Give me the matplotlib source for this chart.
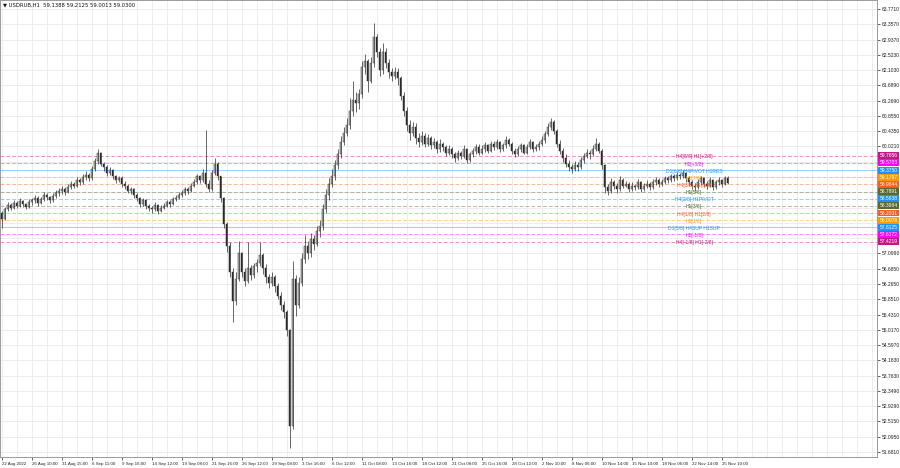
import matplotlib
matplotlib.use('Agg')
import matplotlib.pyplot as plt
import matplotlib.transforms as mtransforms
from matplotlib.patches import Rectangle
from matplotlib.ticker import MultipleLocator
import numpy as np

plt.rcParams['font.family'] = ['Liberation Sans', 'DejaVu Sans']

header_text = "\u25BC USDRUB,H1  59.1388 59.2125 59.0013 59.0300"

first_open = 58.20
closes = [
    58.05, 58.30, 58.42, 58.35, 58.48, 58.40, 58.52, 58.45, 58.38, 58.50,
    58.55, 58.62, 58.48, 58.58, 58.70, 58.64, 58.55, 58.68, 58.75, 58.80,
    58.85, 58.78, 58.92, 59.00, 58.95, 59.10, 59.05, 59.18, 59.25, 59.15,
    59.40, 59.62, 59.85, 59.55, 59.45, 59.30, 59.38, 59.20, 59.10, 59.15,
    59.00, 58.95, 58.80, 58.85, 58.70, 58.60, 58.45, 58.55, 58.40, 58.35,
    58.30, 58.42, 58.25, 58.35, 58.40, 58.50, 58.45, 58.58, 58.62, 58.70,
    58.75, 58.85, 58.80, 58.95, 59.05, 59.20, 59.10, 59.30, 59.00, 58.85,
    59.30, 59.55, 59.20, 58.60, 57.90, 57.30, 56.60, 55.80, 56.40, 57.10,
    56.60, 56.35, 56.70, 56.50, 56.75, 56.85, 57.05, 56.70, 56.45, 56.30,
    56.45, 56.20, 55.95, 55.70, 55.50, 55.00, 52.40, 56.40, 55.70, 56.30,
    56.95, 57.30, 57.10, 57.50, 57.35, 57.70, 57.85, 58.30, 58.70, 59.00,
    59.20, 59.50, 59.80, 60.15, 60.40, 60.60, 61.00, 61.30, 61.20, 61.45,
    62.20, 62.35, 61.80, 62.30, 63.00, 62.60, 62.10, 62.60, 62.30, 62.05,
    61.95, 62.05, 61.90, 61.40, 61.00, 60.60, 60.40, 60.55, 60.25, 60.15,
    60.30, 60.10, 60.25, 60.05, 60.15, 59.95, 60.10, 60.00, 59.85, 59.95,
    59.80, 59.70, 59.85, 59.75, 59.95, 59.65, 59.80, 59.90, 60.00, 59.85,
    59.95, 60.05, 59.90, 60.10, 60.00, 60.15, 59.95, 60.05, 60.20, 60.10,
    59.90, 59.80, 59.95, 60.05, 59.85, 60.00, 60.15, 59.95, 60.00, 60.10,
    60.20, 60.35, 60.55, 60.70, 60.45, 60.10, 59.90, 59.70, 59.55, 59.45,
    59.40, 59.50, 59.45, 59.65, 59.75, 59.85, 59.80, 59.95, 60.10, 59.90,
    59.50, 58.90, 58.80, 59.05, 58.95, 58.85, 59.10, 58.95, 59.00, 58.85,
    58.95, 58.90, 59.05, 58.85, 58.95, 59.00, 58.90, 59.05, 59.10, 59.00,
    59.05, 59.15, 59.10, 59.20, 59.15, 59.25, 59.20, 59.30, 59.15, 59.05,
    58.95, 58.90, 59.05, 59.15, 59.00, 58.95, 59.10, 58.90, 59.05, 59.10, 59.00, 59.15, 59.03,
]
highs = [
    58.25, 58.38, 58.50, 58.47, 58.55, 58.52, 58.60, 58.56, 58.48, 58.58,
    58.62, 58.70, 58.66, 58.65, 58.78, 58.75, 58.68, 58.75, 58.82, 58.88,
    58.95, 58.90, 59.00, 59.08, 59.06, 59.18, 59.15, 59.26, 59.35, 59.30,
    59.48, 59.70, 59.95, 59.88, 59.60, 59.50, 59.45, 59.40, 59.25, 59.22,
    59.20, 59.08, 59.00, 58.92, 58.88, 58.75, 58.65, 58.62, 58.58, 58.46,
    58.40, 58.50, 58.45, 58.42, 58.48, 58.56, 58.55, 58.64, 58.70, 58.78,
    58.82, 58.92, 58.90, 59.02, 59.12, 59.28, 59.25, 59.40, 60.47, 59.10,
    59.38, 59.70, 59.60, 59.22, 58.65, 57.95, 57.40, 56.70, 56.60, 57.45,
    57.15, 56.70, 57.40, 56.78, 56.85, 56.95, 57.40, 57.10, 56.80, 56.55,
    56.60, 56.50, 56.30, 56.05, 55.80, 55.55, 55.05, 56.90, 56.50, 56.45,
    57.10, 57.60, 57.45, 57.65, 57.60, 57.85, 58.00, 58.45, 58.85, 59.15,
    59.40, 59.65, 59.95, 60.30, 60.55, 60.80, 61.35, 61.81, 61.50, 61.60,
    62.35, 62.55, 62.40, 62.45, 63.40, 63.10, 62.70, 62.85, 62.70, 62.40,
    62.15, 62.20, 62.15, 61.95, 61.50, 61.10, 60.75, 60.70, 60.65, 60.40,
    60.45, 60.38, 60.35, 60.30, 60.25, 60.20, 60.22, 60.15, 60.05, 60.05,
    60.00, 59.88, 59.92, 59.90, 60.05, 59.98, 59.88, 59.98, 60.10, 60.08,
    60.05, 60.15, 60.10, 60.18, 60.16, 60.22, 60.18, 60.12, 60.30, 60.25,
    60.15, 59.98, 60.02, 60.12, 60.10, 60.08, 60.22, 60.18, 60.08, 60.18,
    60.30, 60.45, 60.65, 60.80, 60.75, 60.50, 60.20, 59.98, 59.80, 59.65,
    59.55, 59.62, 59.60, 59.72, 59.85, 59.95, 59.92, 60.05, 60.25, 60.15,
    59.95, 59.55, 59.00, 59.15, 59.10, 59.02, 59.20, 59.15, 59.08, 59.05,
    59.05, 59.00, 59.12, 59.08, 59.02, 59.10, 59.05, 59.12, 59.18, 59.15,
    59.12, 59.22, 59.20, 59.28, 59.26, 59.32, 59.30, 59.38, 59.32, 59.20,
    59.10, 59.02, 59.12, 59.22, 59.18, 59.08, 59.18, 59.12, 59.10, 59.18, 59.14, 59.21, 59.21,
]
lows = [
    57.80, 58.00, 58.25, 58.28, 58.30, 58.33, 58.36, 58.38, 58.30, 58.35,
    58.42, 58.48, 58.40, 58.44, 58.52, 58.56, 58.47, 58.50, 58.62, 58.68,
    58.72, 58.70, 58.74, 58.86, 58.88, 58.90, 58.98, 59.00, 59.10, 59.08,
    59.10, 59.35, 59.55, 59.48, 59.35, 59.22, 59.25, 59.12, 59.02, 59.04,
    58.92, 58.85, 58.74, 58.72, 58.62, 58.52, 58.38, 58.40, 58.32, 58.25,
    58.20, 58.26, 58.18, 58.22, 58.30, 58.36, 58.38, 58.42, 58.52, 58.58,
    58.64, 58.70, 58.72, 58.78, 58.90, 59.00, 59.02, 59.05, 58.90, 58.78,
    58.80, 59.25, 59.10, 58.50, 57.80, 57.15, 56.45, 55.23, 55.70, 56.35,
    56.45, 56.20, 56.30, 56.38, 56.42, 56.60, 56.75, 56.55, 56.30, 56.15,
    56.20, 56.05, 55.85, 55.55, 55.35, 54.85, 51.80, 52.30, 55.40, 55.60,
    56.20, 56.85, 56.95, 57.00, 57.20, 57.30, 57.55, 57.75, 58.20, 58.55,
    58.90, 59.10, 59.40, 59.70, 60.05, 60.30, 60.50, 60.85, 60.95, 61.05,
    61.35, 62.00, 61.50, 61.75, 62.20, 62.45, 61.95, 62.00, 62.15, 61.90,
    61.80, 61.85, 61.70, 61.30, 60.85, 60.45, 60.20, 60.30, 60.10, 60.00,
    60.05, 60.00, 60.02, 59.95, 59.98, 59.85, 59.88, 59.90, 59.75, 59.78,
    59.70, 59.60, 59.66, 59.68, 59.70, 59.58, 59.60, 59.72, 59.82, 59.78,
    59.80, 59.88, 59.85, 59.86, 59.92, 59.95, 59.88, 59.90, 59.98, 60.02,
    59.82, 59.72, 59.75, 59.88, 59.80, 59.80, 59.95, 59.88, 59.90, 59.92,
    60.02, 60.12, 60.30, 60.48, 60.35, 60.00, 59.80, 59.60, 59.45, 59.35,
    59.30, 59.35, 59.35, 59.40, 59.58, 59.70, 59.68, 59.75, 59.90, 59.85,
    59.40, 58.75, 58.70, 58.75, 58.85, 58.75, 58.80, 58.88, 58.90, 58.78,
    58.80, 58.82, 58.85, 58.78, 58.80, 58.88, 58.82, 58.85, 58.98, 58.92,
    58.95, 59.00, 59.02, 59.05, 59.08, 59.10, 59.12, 59.15, 59.05, 58.95,
    58.85, 58.80, 58.85, 58.98, 58.92, 58.85, 58.90, 58.82, 58.86, 58.98, 58.92, 58.98, 59.00,
]

date_labels = [
    "22 Aug 2022", "26 Aug 10:00", "31 Aug 15:00", "6 Sep 11:00", "9 Sep 16:00",
    "14 Sep 12:00", "19 Sep 08:00", "21 Sep 16:00", "26 Sep 12:00", "29 Sep 08:00",
    "3 Oct 16:00", "6 Oct 12:00", "11 Oct 08:00", "13 Oct 16:00", "18 Oct 12:00",
    "21 Oct 08:00", "25 Oct 16:00", "28 Oct 12:00", "2 Nov 10:00", "8 Nov 06:00",
    "10 Nov 14:00", "15 Nov 10:00", "18 Nov 06:00", "22 Nov 14:00", "25 Nov 10:00",
]

price_ticks = [
    63.7710, 63.3570, 62.9370, 62.5230, 62.1030, 61.6890, 61.2690, 60.8550,
    60.4350, 60.0210, 59.6070, 59.1870, 58.7730, 58.3530, 57.9390, 57.5190,
    57.0990, 56.6850, 56.2650, 55.8510, 55.4310, 55.0170, 54.5970, 54.1830,
    53.7630, 53.3490, 52.9290, 52.5150, 52.0950, 51.6810,
]
hidden_ticks = [59.6070, 59.1870, 58.7730, 58.3530, 57.9390, 57.5190]

level_prices = [59.7656, 59.5703, 59.3750, 59.1797, 58.9844, 58.7891, 58.5938,
                58.3984, 58.2031, 58.0078, 57.8125, 57.6172, 57.4219]
level_texts = ["H4[8/8] H1[+2/8]", "H1[+1/8]", "D1[6/8] H4PIVOT H1RES", "H1[7/8]",
               "H4[3/8] H1[6/8]", "H1[5/8]", "H4[2/8] H1PIVOT", "H1[3/8]",
               "H4[1/8] H1[2/8]", "H1[1/8]", "D1[5/8] H4SUP H1SUP", "H1[-1/8]",
               "H4[-1/8] H1[-2/8]"]
level_colors = ["#C71585", "#FF00FF", "#1E90FF", "#FF9900", "#FF5A1E", "#556B2F",
                "#1E90FF", "#556B2F", "#FF5A1E", "#FF9900", "#1E90FF", "#FF00FF",
                "#C71585"]
level_solid = [False, False, True, False, False, False, False, False, False, False,
               True, False, False]
last_price = 59.0300

# ---------------- figure ----------------
W, H = 900, 468
fig = plt.figure(figsize=(9.0, 4.68), dpi=100)
fig.patch.set_facecolor('white')
ax = fig.add_axes([0.0, 11 / H, 877 / W, 457 / H])
ax.set_facecolor('white')

n = len(closes)
x = np.arange(n)
c = np.array(closes)
o = np.array([first_open] + closes[:-1])
hi = np.maximum(np.array(highs), np.maximum(o, c))
lo = np.minimum(np.array(lows), np.minimum(o, c))

px_per_bar = 3.0
ax.set_xlim(-0.5, -0.5 + 877 / px_per_bar)
y_top = 63.771 + 9 / 36.64
y_bot = 63.771 - 448 / 36.64
ax.set_ylim(y_bot, y_top)

# grid and ticks
ax.set_yticks(price_ticks)
ax.set_yticklabels(["" if t in hidden_ticks else f"{t:.4f}" for t in price_ticks])
ax.set_xticks(np.arange(0, 10 * len(date_labels), 10))
ax.set_xticklabels(date_labels)
ax.xaxis.set_minor_locator(MultipleLocator(5))
ax.grid(True, which='both', color='#eaeaef', lw=0.6, zorder=0)
ax.set_axisbelow(True)

ax.yaxis.tick_right()
ax.tick_params(axis='y', which='major', labelsize=3.6, length=2, pad=1.5,
               colors='#222222', width=0.5)
ax.tick_params(axis='x', which='major', labelsize=3.2, length=2, pad=1.5,
               colors='#222222', width=0.5)
ax.tick_params(axis='x', which='minor', length=0)
for lab in ax.get_xticklabels():
    lab.set_horizontalalignment('left')
for sp in ax.spines.values():
    sp.set_color('#9a9a9a')
    sp.set_linewidth(0.7)

# level lines
for p, col, solid in zip(level_prices, level_colors, level_solid):
    ax.axhline(p, color=col, lw=0.7, alpha=0.45,
               ls='-' if solid else (0, (4, 2)), zorder=1)

# candles
ax.vlines(x, lo, hi, color='#2a2a2a', lw=0.5, zorder=3)
bull = c >= o
bear = ~bull
body_min = 0.015
ax.bar(x[bull], np.maximum(c - o, body_min)[bull], bottom=o[bull], width=0.45,
       color='#f4f4f4', edgecolor='#2a2a2a', linewidth=0.35, zorder=3.1)
ax.bar(x[bear], np.maximum(o - c, body_min)[bear], bottom=c[bear], width=0.45,
       color='#2a2a2a', edgecolor='#2a2a2a', linewidth=0.35, zorder=3.1)

# level texts on chart
label_x = (694 - 1.5) / px_per_bar
for p, t, col in zip(level_prices, level_texts, level_colors):
    ax.text(label_x, p - 0.03, t, color=col, fontsize=3.6, ha='center', va='center',
            zorder=4)

# right price boxes
trans = mtransforms.blended_transform_factory(ax.transAxes, ax.transData)
bx0 = 1.0 + 1.5 / 877
bw = 20.5 / 877
bh = 0.19
ax.add_patch(Rectangle((bx0, last_price - bh / 2), bw, bh, transform=trans,
                       facecolor='black', edgecolor='none', clip_on=False, zorder=5))
ax.text(bx0 + bw / 2, last_price, f"{last_price:.4f}", transform=trans, color='white',
        fontsize=3.6, ha='center', va='center', clip_on=False, zorder=5.1)
for p, col in zip(level_prices, level_colors):
    ax.add_patch(Rectangle((bx0, p - bh / 2), bw, bh, transform=trans,
                           facecolor=col, edgecolor='none', clip_on=False, zorder=6))
    ax.text(bx0 + bw / 2, p, f"{p:.4f}", transform=trans, color='white',
            fontsize=3.6, ha='center', va='center', clip_on=False, zorder=6.1)

# header
fig.text(3 / W, 1 - 5 / H, header_text, fontsize=3.8, color='#111111',
         ha='left', va='center', family=['DejaVu Sans'])

fig.savefig('out.png', dpi=100, facecolor='white')
